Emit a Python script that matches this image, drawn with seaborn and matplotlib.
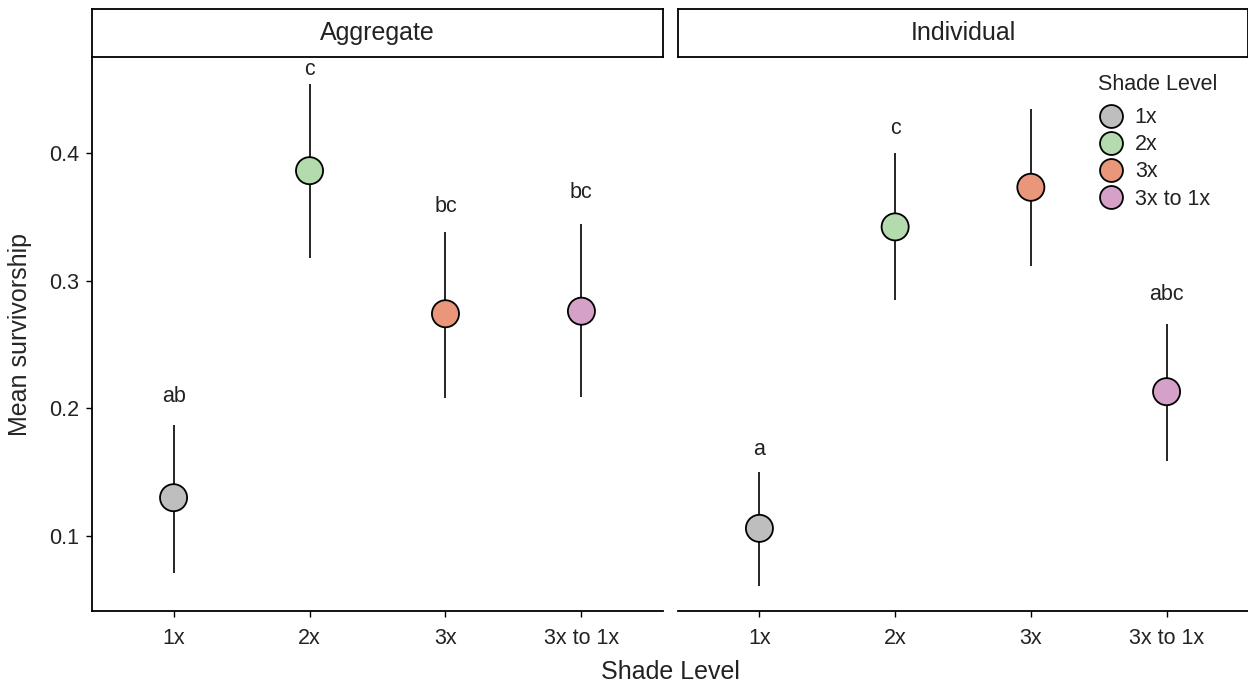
import matplotlib
matplotlib.use('Agg')
import matplotlib.pyplot as plt
import seaborn as sns
import pandas as pd
from matplotlib.lines import Line2D

sns.set_style('white')
plt.rcParams['font.family'] = ['Liberation Sans', 'DejaVu Sans']
plt.rcParams['text.color'] = '#222222'

# 데이터
levels = ['1x', '2x', '3x', '3x to 1x']
panels = ['Aggregate', 'Individual']
agg_mean = [0.130, 0.386, 0.274, 0.276]
agg_low = [0.071, 0.318, 0.208, 0.209]
agg_high = [0.187, 0.454, 0.338, 0.344]
agg_letters = ['ab', 'c', 'bc', 'bc']
agg_letter_y = [0.209, 0.465, 0.358, 0.369]
ind_mean = [0.106, 0.342, 0.373, 0.213]
ind_low = [0.061, 0.285, 0.311, 0.159]
ind_high = [0.150, 0.400, 0.434, 0.266]
ind_letters = ['a', 'c', 'c', 'abc']
ind_letter_y = [0.168, 0.419, 0.481, 0.289]
colors = ['#bebebe', '#b4dbad', '#e9967a', '#d6a1c9']

df = pd.DataFrame({
    'panel': [panels[0]] * 4 + [panels[1]] * 4,
    'level': levels * 2,
    'mean': agg_mean + ind_mean,
    'low': agg_low + ind_low,
    'high': agg_high + ind_high,
    'letter': agg_letters + ind_letters,
    'letter_y': agg_letter_y + ind_letter_y,
})
pal = dict(zip(levels, colors))

fig = plt.figure(figsize=(12.48, 6.86), dpi=100)
W, H = 1248, 686
boxes = [(92, 663), (678, 1248)]
top, bot = 57, 611
fs = 15.5
axes = []
for i, (l, r) in enumerate(boxes):
    ax = fig.add_axes([l / W, 1 - bot / H, (r - l) / W, (bot - top) / H])
    axes.append(ax)
    d = df[df['panel'] == panels[i]]
    ax.vlines(d['level'], d['low'], d['high'], color='black', lw=1.2, zorder=1)
    sns.scatterplot(data=d, x='level', y='mean', hue='level', palette=pal, s=380,
                    edgecolor='black', linewidth=1.3, ax=ax, legend=False, zorder=3)
    for _, row in d.iterrows():
        ax.text(row['level'], row['letter_y'], row['letter'], ha='center', va='center', fontsize=fs)
    ax.set_xlim(-0.6, 3.6)
    ax.set_ylim(0.0413, 0.475)
    ax.set_xlabel('')
    ax.set_ylabel('')
    for s in ['top', 'right']:
        ax.spines[s].set_visible(False)
    ax.spines['bottom'].set_color('black')
    ax.spines['bottom'].set_linewidth(1.3)
    ax.set_yticks([0.1, 0.2, 0.3, 0.4])
    ax.tick_params(axis='x', bottom=True, length=4.5, width=1, labelsize=fs, pad=8,
                   colors='black', labelcolor='#222222')
    if i == 0:
        ax.spines['left'].set_color('black')
        ax.spines['left'].set_linewidth(1.3)
        ax.tick_params(axis='y', left=True, length=4.5, width=1, labelsize=fs, pad=5,
                       colors='black', labelcolor='#222222')
        ax.set_ylabel('Mean survivorship', fontsize=18, labelpad=12)
    else:
        ax.spines['left'].set_visible(False)
        ax.tick_params(axis='y', left=False, labelleft=False)
    # 패널 제목 띠
    sax = fig.add_axes([l / W, 1 - top / H, (r - l) / W, (top - 9) / H])
    sax.set_xticks([])
    sax.set_yticks([])
    for s in sax.spines.values():
        s.set_color('black')
        s.set_linewidth(1.3)
    sax.text(0.5, 0.5, panels[i], ha='center', va='center', fontsize=18, transform=sax.transAxes)

fig.text((92 + 1248) / 2 / W, 1 - 672 / H, 'Shade Level', ha='center', va='center', fontsize=18)

handles = [Line2D([], [], marker='o', ls='', markersize=16.5, markerfacecolor=c,
                  markeredgecolor='black', markeredgewidth=1.3) for c in colors]
leg = axes[1].legend(handles, levels, title='Shade Level', loc='upper left', frameon=False,
                     fontsize=fs, title_fontsize=fs, handletextpad=0.5, labelspacing=0.28,
                     handlelength=1.2, bbox_to_anchor=(0.722, 0.985), borderaxespad=0)
leg._legend_box.align = 'left'
leg._legend_box.sep = 9

fig.savefig('out.png', dpi=100)
